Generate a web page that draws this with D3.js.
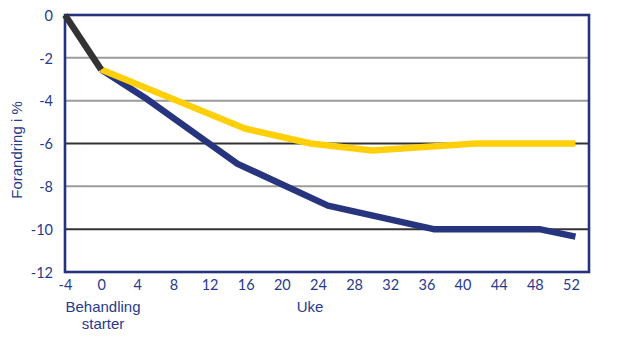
<!DOCTYPE html>
<html><head><meta charset="utf-8">
<script src="https://cdn.jsdelivr.net/npm/d3@7"></script>
<style>body{margin:0;background:#fff}</style>
</head><body>
<svg id="chart" width="617" height="345"></svg>
<script>
// Data
const xTicks = [-4,0,4,8,12,16,20,24,28,32,36,40,44,48,52];
const yTicks = [0,-2,-4,-6,-8,-10,-12];
const preWeeks = [-4, 0];
const preValues = [0, -2.55];
const blueWeeks = [0, 4.8, 15.1, 25.1, 36.8, 48.5, 52.5];
const blueValues = [-2.55, -3.85, -6.95, -8.9, -10, -10, -10.35];
const yellowWeeks = [0, 15.9, 23.2, 30.0, 41.5, 52.5];
const yellowValues = [-2.55, -5.3, -6.0, -6.33, -6.0, -6.0];
const darkGrid = [-6, -10];
const lightGrid = [-2, -4, -8];
const xTitle = "Uke";
const startLabel = ["Behandling", "starter"];
const yTitle = "Forandring i %";

const svg = d3.select("#chart");
const L = 65, R = 589, T = 15, B = 272;
const x = d3.scaleLinear().domain([-4, 54]).range([L, R]);
const y = d3.scaleLinear().domain([-12, 0]).range([B, T]);
const textColor = "#283a8c";
const borderColor = "#27327f";
const fmt = d => String(d);

// gridlines
svg.append("g").selectAll("line").data(lightGrid).join("line")
  .attr("x1", L).attr("x2", R).attr("y1", d => y(d)).attr("y2", d => y(d))
  .attr("stroke", "#9b9b9b").attr("stroke-width", 2);
svg.append("g").selectAll("line").data(darkGrid).join("line")
  .attr("x1", L).attr("x2", R).attr("y1", d => y(d)).attr("y2", d => y(d))
  .attr("stroke", "#333").attr("stroke-width", 2);

// border
svg.append("rect").attr("x", L).attr("y", T).attr("width", R - L).attr("height", B - T)
  .attr("fill", "none").attr("stroke", borderColor).attr("stroke-width", 2.6);

// axes (labels only)
const xAxis = d3.axisBottom(x).tickValues(xTicks).tickSize(0).tickPadding(0).tickFormat(fmt);
const gx = svg.append("g").attr("transform", `translate(0,${B})`).call(xAxis);
gx.select(".domain").remove();
gx.selectAll("text").attr("dy", null).attr("y", 18)
  .attr("font-family", "Lato").attr("font-size", 14.5).attr("fill", textColor);

const yAxis = d3.axisLeft(y).tickValues(yTicks).tickSize(0).tickPadding(0).tickFormat(fmt);
const gy = svg.append("g").attr("transform", `translate(53,0)`).call(yAxis);
gy.select(".domain").remove();
gy.selectAll("text").attr("dy", "0.36em").attr("x", 0)
  .attr("font-family", "Lato").attr("font-size", 14.5).attr("fill", textColor);

// titles
svg.append("text").attr("x", 103).attr("y", 312).attr("text-anchor", "middle")
  .attr("font-family", "Liberation Sans").attr("font-size", 15).attr("fill", textColor)
  .text(startLabel[0]);
svg.append("text").attr("x", 103).attr("y", 329).attr("text-anchor", "middle")
  .attr("font-family", "Liberation Sans").attr("font-size", 15).attr("fill", textColor)
  .text(startLabel[1]);
svg.append("text").attr("x", 310).attr("y", 312).attr("text-anchor", "middle")
  .attr("font-family", "Liberation Sans").attr("font-size", 15).attr("fill", textColor)
  .text(xTitle);
svg.append("text").attr("transform", "translate(22,150) rotate(-90)").attr("text-anchor", "middle")
  .attr("font-family", "Liberation Sans").attr("font-size", 15).attr("fill", textColor)
  .text(yTitle);

// lines
const line = d3.line().x(d => x(d[0])).y(d => y(d[1]));
const series = [
  {w: blueWeeks, v: blueValues, c: "#27357f", sw: 6.5},
  {w: yellowWeeks, v: yellowValues, c: "#ffd00a", sw: 6.5},
  {w: preWeeks, v: preValues, c: "#333333", sw: 6.5}
];
series.forEach(s => {
  svg.append("path").datum(d3.zip(s.w, s.v)).attr("d", line)
    .attr("fill", "none").attr("stroke", s.c).attr("stroke-width", s.sw)
    .attr("stroke-linejoin", "round");
});
</script>
</body></html>
